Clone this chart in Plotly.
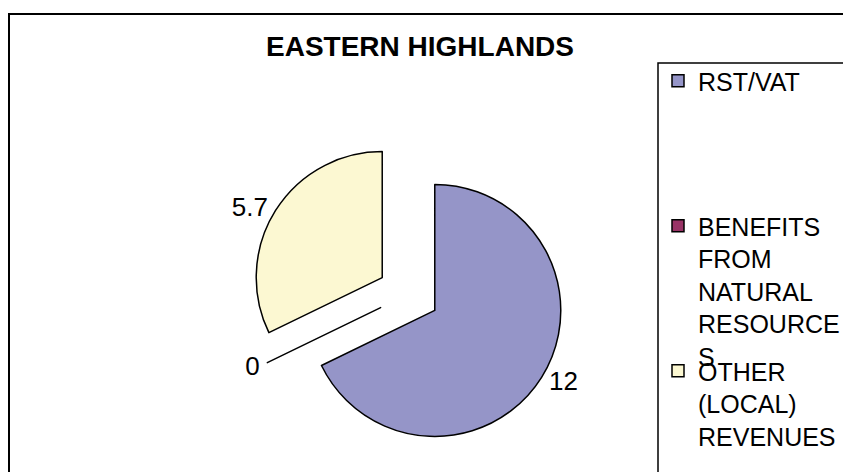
import plotly.graph_objects as go

# ---- data ----
categories = ["RST/VAT", "BENEFITS FROM NATURAL RESOURCES", "OTHER (LOCAL) REVENUES"]
values = [12, 0, 5.7]
legend_labels = ["RST/VAT", "BENEFITS<br>FROM<br>NATURAL<br>RESOURCE<br>S", "OTHER<br>(LOCAL)<br>REVENUES"]
colors = ["#9595C8", "#993366", "#FCF8D2"]
title_text = "EASTERN HIGHLANDS"

W, H = 843, 472
FONT = "Liberation Sans, Arial, sans-serif"

fig = go.Figure()

# pie
cx, cy, half = 408.5, 294, 157
fig.add_trace(go.Pie(
    labels=categories,
    values=values,
    sort=False,
    direction="clockwise",
    rotation=0,
    pull=[0.246] * len(values),
    marker=dict(colors=colors, line=dict(color="black", width=1.5)),
    textinfo="value",
    textposition="outside",
    textfont=dict(family=FONT, size=26, color="black"),
    showlegend=False,
    domain=dict(x=[(cx - half) / W, (cx + half) / W],
                y=[(H - cy - half) / H, (H - cy + half) / H]),
    hoverinfo="label+value",
))

# legend entries (one legend per category, positioned like the original)
legend_names = ["legend", "legend2", "legend3"]
legend_tops = [58, 203, 348]
for name, lab, col in zip(legend_names, legend_labels, colors):
    fig.add_trace(go.Scatter(
        x=[None], y=[None], mode="markers", name=lab,
        marker=dict(symbol="square", size=12, color=col, line=dict(color="black", width=1.5)),
        legend=name, showlegend=True, hoverinfo="skip",
    ))

legend_common = dict(
    x=658 / W, xanchor="left", yanchor="top",
    bgcolor="rgba(0,0,0,0)", borderwidth=0,
    font=dict(family=FONT, size=25, color="black"),
    valign="top", itemclick=False, itemdoubleclick=False,
)
layout_legends = {}
for name, ltop in zip(legend_names, legend_tops):
    layout_legends[name] = dict(legend_common, y=(H - ltop) / H)

fig.update_layout(
    width=W, height=H,
    margin=dict(l=0, r=0, t=0, b=0, autoexpand=False),
    paper_bgcolor="white",
    plot_bgcolor="rgba(0,0,0,0)",
    xaxis=dict(visible=False),
    yaxis=dict(visible=False),
    title=dict(text="<b>" + title_text + "</b>", x=420 / W, xanchor="center",
               y=1 - 46 / H, yanchor="middle", yref="container",
               font=dict(family=FONT, size=28, color="black")),
    shapes=[
        dict(type="rect", xref="paper", yref="paper",
             x0=9 / W, x1=1.05, y0=-0.05, y1=(H - 14) / H,
             line=dict(color="black", width=2), fillcolor="rgba(0,0,0,0)", layer="above"),
        dict(type="rect", xref="paper", yref="paper",
             x0=658 / W, x1=1.05, y0=-0.05, y1=(H - 63) / H,
             line=dict(color="black", width=1.5), fillcolor="rgba(0,0,0,0)", layer="above"),
    ],
    **layout_legends,
)

fig.write_html(
    "out.html",
    config={"displayModeBar": False},
    post_script="document.body.style.margin='0';document.body.style.overflow='hidden';",
)
